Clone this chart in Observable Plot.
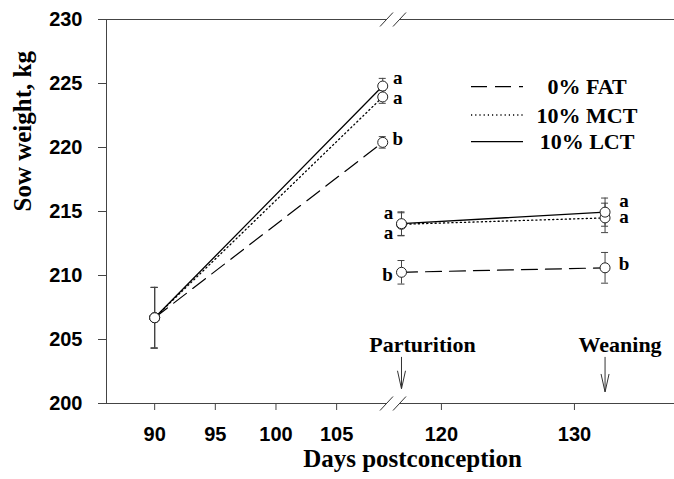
<!DOCTYPE html>
<html><head><meta charset="utf-8">
<script src="https://cdn.jsdelivr.net/npm/d3@7"></script>
<script src="https://cdn.jsdelivr.net/npm/@observablehq/plot@0.6"></script>
<style>
html,body{margin:0;padding:0;background:#fff;}
#wrap{position:relative;width:674px;height:479px;overflow:hidden;}
#legend{position:absolute;left:0;top:0;pointer-events:none;}
</style></head><body><div id="wrap"></div>
<script>
// ---- data ----
const days = [90, 108.8, 117, 132.3];
const phases = ["gestation", "gestation", "lactation", "lactation"];
const seriesNames = ["0% FAT", "10% MCT", "10% LCT"];
const fatMean = [206.7, 220.4, 210.25, 210.6];
const fatSE   = [2.37, 0.45, 0.92, 1.2];
const mctMean = [206.7, 223.95, 214.0, 214.5];
const mctSE   = [2.37, 0.5, 0.9, 1.15];
const lctMean = [206.7, 224.8, 214.05, 214.95];
const lctSE   = [2.37, 0.6, 0.92, 1.1];
const fatLetters = ["", "b", "b", "b"];
const mctLetters = ["", "a", "a", "a"];
const lctLetters = ["", "a", "a", "a"];
const yTicks = [200, 205, 210, 215, 220, 225, 230];
const xTicks = [90, 95, 100, 105, 120, 130];
const xSegments = [[86.03, 109.11], [116.85, 137.52]];
const events = ["Parturition", "Weaning"];
const eventDays = [117, 132.3];
const eventLabelY = [204.55, 204.55];
const eventArrowTop = [203.6, 203.6];
const eventArrowTip = [201.15, 200.9];

// ---- build table ----
const means = [fatMean, mctMean, lctMean];
const ses = [fatSE, mctSE, lctSE];
const letters = [fatLetters, mctLetters, lctLetters];
const rows = seriesNames.flatMap((s, i) => days.map((d, j) => ({
  series: s, si: i, t: j, day: d, phase: phases[j],
  mean: means[i][j], se: ses[i][j], letter: letters[i][j]
})));
const eventRows = events.map((e, i) => ({name: e, day: eventDays[i], ly: eventLabelY[i], top: eventArrowTop[i], tip: eventArrowTip[i]}));
const axisRows = xSegments.flatMap(s => [{y: 200, x1: s[0], x2: s[1]}, {y: 230, x1: s[0], x2: s[1]}]);
const breakRows = [xSegments[0][1], xSegments[1][0]].flatMap(x => [{x, y: 200}, {x, y: 230}]);

const dashes = {"0% FAT": "16,8", "10% MCT": "1.2,3", "10% LCT": null};
const widths = {"0% FAT": 1.2, "10% MCT": 1.3, "10% LCT": 1.3};
const serif = "'Liberation Serif','Times New Roman',serif";
const sans = "'Liberation Sans',Arial,sans-serif";
const ink = "#222";

const slash = {draw(ctx) { ctx.moveTo(-6.5, 7); ctx.lineTo(6.5, -7); }};
const vHead = {draw(ctx) { ctx.moveTo(-4, -18); ctx.lineTo(0, 0); ctx.lineTo(4, -18); }};

// letter offsets per time point / series (style only)
const letterOffsets = {
  1: [[15, -3], [15, 1], [15, -8]],
  2: [[-14, 3], [-13, 9], [-13, -11]],
  3: [[19, -4], [19, -1], [19, -11]]
};
const letterMarks = [];
for (const t of [1, 2, 3]) for (const si of [0, 1, 2]) {
  const [dx, dy] = letterOffsets[t][si];
  letterMarks.push(Plot.text(rows, {filter: d => d.t === t && d.si === si && d.letter, x: "day", y: "mean", text: "letter",
    dx, dy, fontSize: 19, fontWeight: "bold", fontFamily: serif, fill: "#000"}));
}

const lineMarks = seriesNames.map(s => Plot.line(rows, {filter: d => d.series === s, x: "day", y: "mean",
  z: d => d.series + d.phase, stroke: "#000", strokeWidth: widths[s], strokeDasharray: dashes[s]}));

const chart = Plot.plot({
  width: 674, height: 479,
  marginLeft: 106, marginRight: 0, marginTop: 19, marginBottom: 76,
  style: {fontFamily: sans, background: "#fff"},
  x: {type: "linear", domain: [xSegments[0][0], xSegments[0][1], xSegments[1][0], xSegments[1][1]], range: [106, 386, 399, 674]},
  y: {domain: [200, 230]},
  marks: [
    Plot.ruleX([xSegments[0][0]], {y1: 200, y2: 230, stroke: "#444", strokeWidth: 1}),
    Plot.ruleY(axisRows, {y: "y", x1: "x1", x2: "x2", stroke: "#444", strokeWidth: 1}),
    Plot.dot(breakRows, {x: "x", y: "y", symbol: slash, r: 5, fill: "none", stroke: "#333", strokeWidth: 1}),
    Plot.axisY({ticks: yTicks, tickSize: 8, tickPadding: 16, tickFormat: d => d, label: null,
      fontSize: 20, fontWeight: "bold", fontFamily: sans, stroke: "#444", fill: "#000"}),
    Plot.axisX({ticks: xTicks, tickSize: 7, tickPadding: 16, tickFormat: d => d, label: null,
      fontSize: 20, fontWeight: "bold", fontFamily: sans, stroke: "#444", fill: "#000"}),
    Plot.text(["Sow weight, kg"], {frameAnchor: "left", dx: -84, rotate: -90, fontSize: 25, fontWeight: "bold", fontFamily: serif, fill: "#000"}),
    Plot.text(["Days postconception"], {frameAnchor: "bottom", dx: 22, dy: 63, fontSize: 25, fontWeight: "bold", fontFamily: serif, fill: "#000"}),
    ...lineMarks,
    Plot.ruleX(rows, {x: "day", y1: d => d.mean - d.se, y2: d => d.mean + d.se, stroke: "#444", strokeWidth: 1}),
    Plot.ruleY(rows, {y: d => d.mean + d.se, x1: "day", x2: "day", insetLeft: -3.5, insetRight: -3.5, stroke: "#444", strokeWidth: 1}),
    Plot.ruleY(rows, {y: d => d.mean - d.se, x1: "day", x2: "day", insetLeft: -3.5, insetRight: -3.5, stroke: "#444", strokeWidth: 1}),
    Plot.dot(rows, {x: "day", y: "mean", r: 5, fill: "#fff", stroke: ink, strokeWidth: 1}),
    ...letterMarks,
    Plot.text(eventRows, {filter: d => d.name === "Parturition", x: "day", y: "ly", text: "name", dx: 21, fontSize: 22, fontWeight: "bold", fontFamily: serif, fill: "#000"}),
    Plot.text(eventRows, {filter: d => d.name === "Weaning", x: "day", y: "ly", text: "name", dx: 15, fontSize: 22, fontWeight: "bold", fontFamily: serif, fill: "#000"}),
    Plot.ruleX(eventRows, {x: "day", y1: "tip", y2: "top", stroke: "#333", strokeWidth: 1}),
    Plot.dot(eventRows, {x: "day", y: "tip", symbol: vHead, r: 5, fill: "none", stroke: "#333", strokeWidth: 1})
  ]
});
document.getElementById("wrap").appendChild(chart);

// legend overlay
const legend = d3.select("#wrap").append("svg").attr("id", "legend").attr("width", 674).attr("height", 479);
const legendRowsY = [86.7, 115, 141.7];
seriesNames.forEach((s, i) => {
  const g = legend.append("g").attr("transform", `translate(0,${legendRowsY[i]})`);
  g.append("line").attr("x1", 471).attr("x2", 523).attr("y1", 0).attr("y2", 0)
    .attr("stroke", "#000").attr("stroke-width", widths[s]).attr("stroke-dasharray", dashes[s]);
  g.append("text").attr("x", 587).attr("y", 7.5).attr("text-anchor", "middle")
    .attr("font-family", serif).attr("font-weight", "bold").attr("font-size", 22).attr("fill", "#000").text(s);
});
</script></body></html>
